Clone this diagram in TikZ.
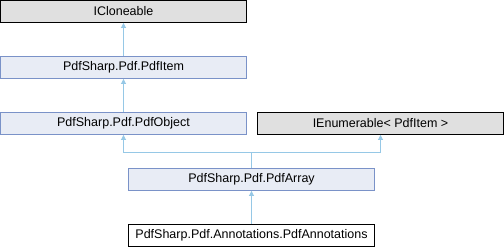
\documentclass[tikz,border=0pt]{standalone}
\usepackage{fontspec}
\setmainfont{Liberation Sans}
\usetikzlibrary{arrows.meta}
\definecolor{edgeblue}{RGB}{150,200,230}
\definecolor{classfill}{RGB}{232,236,245}
\definecolor{classline}{RGB}{122,146,200}
\definecolor{extfill}{RGB}{224,224,224}
\begin{document}
\begin{tikzpicture}[x=1pt,y=-1pt,
  box/.style={draw, line width=0.9pt, minimum width=246pt, minimum height=22pt,
    inner sep=0pt, font=\fontsize{12.5}{14}\selectfont},
  classbox/.style={box, draw=classline, fill=classfill},
  extbox/.style={box, draw=black, fill=extfill},
  leafbox/.style={box, draw=black, fill=white},
  edge/.style={draw=edgeblue, line width=0.9pt,
    -{Triangle[length=5pt,width=5pt,fill=edgeblue]}}]
  \useasboundingbox (0,0) rectangle (504,248);
  \node[extbox]   (icl)  at (123.5,11.5)  {ICloneable};
  \node[classbox] (item) at (123.5,67.5)  {PdfSharp.Pdf.PdfItem};
  \node[classbox] (obj)  at (123.5,123.5) {PdfSharp.Pdf.PdfObject};
  \node[extbox]   (ienum) at (380.5,123.5) {IEnumerable< PdfItem >};
  \node[classbox] (arr)  at (251.5,179.5) {PdfSharp.Pdf.PdfArray};
  \node[leafbox]  (ann)  at (251.5,235.5) {PdfSharp.Pdf.Annotations.PdfAnnotations};
  \coordinate (split) at (251.5,152.5);
  \draw[edge] (item.north) -- (icl.south);
  \draw[edge] (obj.north) -- (item.south);
  \draw[edge] (ann.north) -- (arr.south);
  \draw[edge] (arr.north) -- (split) -| (obj.south);
  \draw[edge] (split) -| (ienum.south);
\end{tikzpicture}
\end{document}
